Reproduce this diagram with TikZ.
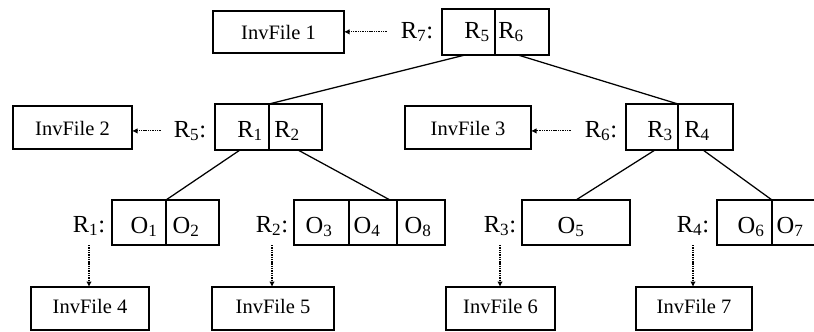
\documentclass[tikz,border=0pt]{standalone}
\usepackage{fontspec}
\setmainfont{Liberation Serif}
\usetikzlibrary{arrows.meta}
\begin{document}
\begin{tikzpicture}[x=1pt,y=-1pt,
  box/.style={draw, line width=1.4pt, inner sep=0pt, outer sep=0pt},
  big/.style={font=\fontsize{24.5}{26}\selectfont, inner sep=0pt, anchor=base},
  file/.style={font=\fontsize{20.5}{22}\selectfont, inner sep=0pt, anchor=base},
  branch/.style={line width=1.25pt},
  ptr/.style={line width=1.1pt, dash pattern=on 1.4pt off 0.9pt,
              -{Latex[length=5.5pt,width=5.5pt]}}
]
\useasboundingbox (0,0) rectangle (814,332);

% ---- level 0: root R7 ----
\node[box, minimum width=131, minimum height=42] (inv1) at (278.5,32) {};
\node[box, minimum width=53, minimum height=46] (t5) at (468.5,32) {};
\node[box, minimum width=54, minimum height=46] (t6) at (522,32) {};
\node[file] (f1) at (278.5,39) {InvFile 1};
\node[big] (l7) at (417,38) {R\textsubscript{7}:};
\node[big] (e5) at (477,38) {R\textsubscript{5}};
\node[big] (e6) at (511,38) {R\textsubscript{6}};

% ---- level 1: R5 and R6 ----
\node[box, minimum width=119, minimum height=43] (inv2) at (72.5,127.5) {};
\node[box, minimum width=54, minimum height=46] (r1c) at (242,127) {};
\node[box, minimum width=53, minimum height=46] (r2c) at (295.5,127) {};
\node[file] (f2) at (72.5,135) {InvFile 2};
\node[big] (l5) at (190,137) {R\textsubscript{5}:};
\node[big] (e1) at (250,137) {R\textsubscript{1}};
\node[big] (e2) at (287,137) {R\textsubscript{2}};

\node[box, minimum width=126, minimum height=43] (inv3) at (468,127.5) {};
\node[box, minimum width=52, minimum height=46] (r3c) at (652,127) {};
\node[box, minimum width=55, minimum height=46] (r4c) at (705.5,127) {};
\node[file] (f3) at (468,135) {InvFile 3};
\node[big] (l6) at (601,137) {R\textsubscript{6}:};
\node[big] (e3) at (660,137) {R\textsubscript{3}};
\node[big] (e4) at (697,137) {R\textsubscript{4}};

% ---- level 2: leaves R1..R4 ----
\node[box, minimum width=54, minimum height=45] (o1c) at (139,222.5) {};
\node[box, minimum width=53, minimum height=45] (o2c) at (192.5,222.5) {};
\node[big] (l1) at (89,232) {R\textsubscript{1}:};
\node[big] (p1) at (144,233) {O\textsubscript{1}};
\node[big] (p2) at (186,233) {O\textsubscript{2}};

\node[box, minimum width=55, minimum height=45] (o3c) at (321.5,222.5) {};
\node[box, minimum width=48, minimum height=45] (o4c) at (373,222.5) {};
\node[box, minimum width=48, minimum height=45] (o8c) at (421,222.5) {};
\node[big] (l2) at (272,232) {R\textsubscript{2}:};
\node[big] (p3) at (319,233) {O\textsubscript{3}};
\node[big] (p4) at (367,233) {O\textsubscript{4}};
\node[big] (p8) at (418,233) {O\textsubscript{8}};

\node[box, minimum width=108, minimum height=45] (o5c) at (576,222.5) {};
\node[big] (l3) at (500,232) {R\textsubscript{3}:};
\node[big] (p5) at (571,233) {O\textsubscript{5}};

\node[box, minimum width=55, minimum height=45] (o6c) at (744.5,222.5) {};
\node[box, minimum width=58, minimum height=45] (o7c) at (801,222.5) {};
\node[big] (l4) at (693,232) {R\textsubscript{4}:};
\node[big] (p6) at (751,233) {O\textsubscript{6}};
\node[big] (p7) at (790,233) {O\textsubscript{7}};

% ---- inverted files of the leaves ----
\node[box, minimum width=118, minimum height=43] (inv4) at (90,308.5) {};
\node[box, minimum width=122, minimum height=43] (inv5) at (273,308.5) {};
\node[box, minimum width=109, minimum height=43] (inv6) at (500.5,308.5) {};
\node[box, minimum width=116, minimum height=43] (inv7) at (694,308.5) {};
\node[file] (f4) at (90,313) {InvFile 4};
\node[file] (f5) at (273,313) {InvFile 5};
\node[file] (f6) at (500.5,313) {InvFile 6};
\node[file] (f7) at (694,313) {InvFile 7};

% ---- tree branches ----
\draw[branch] ([xshift=-3.5pt]t5.south) -- (r1c.north east);
\draw[branch] ([xshift=-4pt]t6.south) -- (r3c.north east);
\draw[branch] ([xshift=-2pt]r1c.south) -- (o1c.north east);
\draw[branch] ([xshift=2.5pt]r2c.south) -- ([xshift=-7pt]o4c.north east);
\draw[branch] ([xshift=3pt]r3c.south) -- (o5c.north);
\draw[branch] ([xshift=-2.5pt]r4c.south) -- (o6c.north east);

% ---- pointers to inverted files ----
\draw[ptr] ([xshift=-14pt]l7.west) -- (l7.west -| inv1.east);
\draw[ptr] ([xshift=-13pt]l5.west) -- (l5.west -| inv2.east);
\draw[ptr] ([xshift=-14pt]l6.west) -- (l6.west -| inv3.east);
\draw[ptr] (l1 |- o1c.south) -- (l1 |- inv4.north);
\draw[ptr] (l2 |- o3c.south) -- (l2 |- inv5.north);
\draw[ptr] (l3 |- o5c.south) -- (l3 |- inv6.north);
\draw[ptr] (l4 |- o6c.south) -- (l4 |- inv7.north);
\end{tikzpicture}
\end{document}
